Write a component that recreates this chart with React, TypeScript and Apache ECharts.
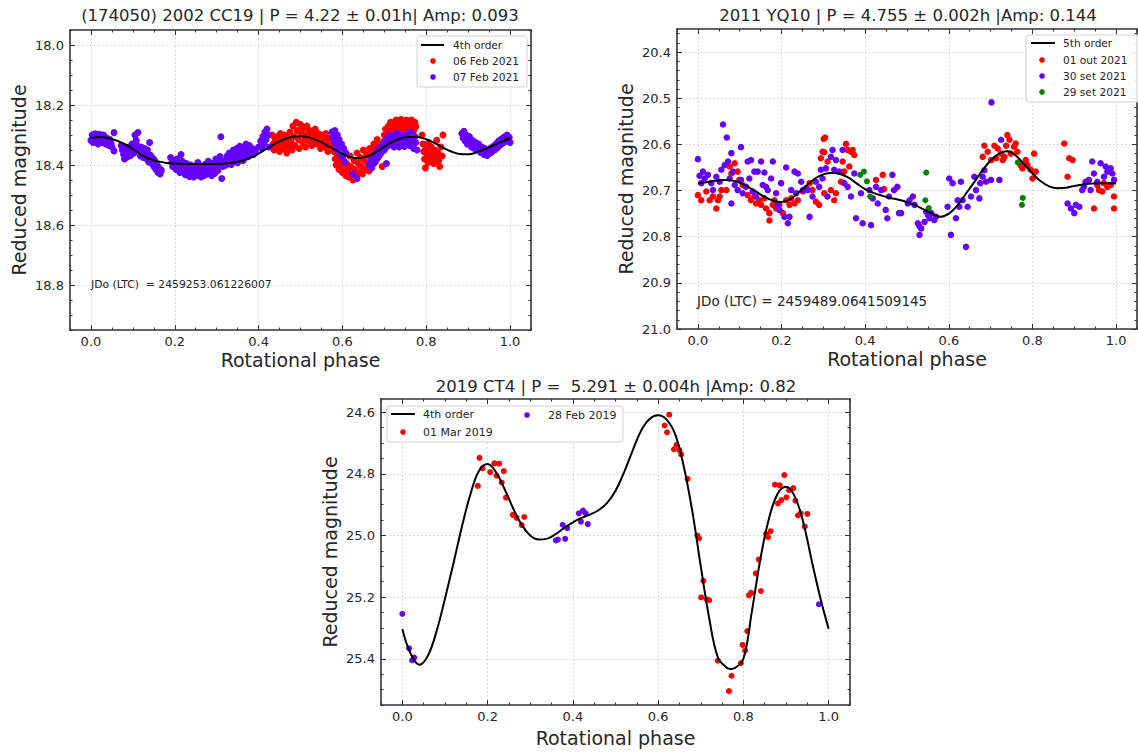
import React, { useEffect, useRef } from "react";
import * as echarts from "echarts";

// ---------- texts ----------
const P1_TITLE = "(174050) 2002 CC19 | P = 4.22 ± 0.01h| Amp: 0.093";
const P2_TITLE = "2011 YQ10 | P = 4.755 ± 0.002h |Amp: 0.144";
const P3_TITLE = "2019 CT4 | P =  5.291 ± 0.004h |Amp: 0.82";
const P1_NOTE = "JDo (LTC)  = 2459253.061226007";
const P2_NOTE = "JDo (LTC) = 2459489.0641509145";
const Y_NAME = "Reduced magnitude";
const X_NAME = "Rotational phase";
const P1_NAMES = ["4th order", "06 Feb 2021", "07 Feb 2021"];
const P2_NAMES = ["5th order", "01 out 2021", "30 set 2021", "29 set 2021"];
const P3_NAMES = ["4th order", "01 Mar 2019", "28 Feb 2019"];

// ---------- ticks ----------
const X_TICKS = [0.0, 0.2, 0.4, 0.6, 0.8, 1.0];
const P1_Y_TICKS = [18.0, 18.2, 18.4, 18.6, 18.8];
const P2_Y_TICKS = [20.4, 20.5, 20.6, 20.7, 20.8, 20.9, 21.0];
const P3_Y_TICKS = [24.6, 24.8, 25.0, 25.2, 25.4];

// ---------- panel 1 data ----------
const P1_FEB06 = [
  [0.432,18.300],[0.435,18.330],[0.437,18.350],[0.440,18.315],[0.442,18.340],[0.445,18.305],[0.447,18.325],[0.450,18.355],[0.452,18.295],[0.455,18.335],[0.457,18.318],[0.460,18.345],[0.462,18.300],[0.465,18.328],[0.467,18.360],[0.470,18.310],[0.472,18.338],[0.475,18.290],[0.477,18.322],[0.480,18.350],[0.482,18.270],[0.485,18.305],[0.487,18.335],[0.490,18.258],[0.492,18.285],[0.495,18.315],[0.497,18.345],[0.500,18.265],[0.502,18.295],[0.505,18.325],[0.507,18.278],[0.510,18.305],[0.512,18.340],[0.515,18.270],[0.517,18.298],[0.520,18.320],[0.522,18.285],[0.525,18.310],[0.527,18.335],[0.530,18.290],[0.532,18.318],[0.535,18.280],[0.537,18.305],[0.540,18.330],[0.542,18.295],[0.545,18.318],[0.548,18.345],[0.550,18.300],[0.553,18.325],[0.555,18.310],[0.558,18.340],[0.560,18.295],[0.563,18.320],[0.565,18.355],[0.568,18.310],[0.570,18.335],
  [0.580,18.355],[0.583,18.380],[0.585,18.400],[0.588,18.365],[0.590,18.390],[0.592,18.415],[0.595,18.375],[0.598,18.400],[0.600,18.425],[0.603,18.385],[0.605,18.410],[0.608,18.435],[0.610,18.395],[0.613,18.420],[0.615,18.440],[0.618,18.370],[0.620,18.405],[0.623,18.430],[0.625,18.450],[0.628,18.385],[0.630,18.415],[0.633,18.440],[0.635,18.360],[0.638,18.395],[0.640,18.425],[0.643,18.375],[0.645,18.405],[0.648,18.430],[0.650,18.350],[0.653,18.385],[0.655,18.415],[0.658,18.365],[0.660,18.395],[0.663,18.420],[0.665,18.345],[0.668,18.375],[0.670,18.405],[0.673,18.355],[0.675,18.330],[0.678,18.390],[0.680,18.345],[0.683,18.315],[0.685,18.375],[0.688,18.330],[0.690,18.360],[0.695,18.405],[0.700,18.320],
  [0.700,18.300],[0.703,18.280],[0.705,18.310],[0.708,18.290],[0.710,18.270],[0.713,18.300],[0.715,18.258],[0.718,18.285],[0.720,18.305],[0.723,18.265],[0.725,18.290],[0.728,18.250],[0.730,18.275],[0.733,18.298],[0.735,18.258],[0.738,18.282],[0.740,18.248],[0.743,18.270],[0.745,18.292],[0.748,18.255],[0.750,18.278],[0.753,18.250],[0.755,18.268],[0.758,18.288],[0.760,18.255],[0.763,18.275],[0.765,18.250],[0.768,18.265],[0.770,18.285],[0.773,18.258],[0.775,18.272],
  [0.790,18.300],[0.792,18.330],[0.794,18.355],[0.796,18.380],[0.798,18.410],[0.800,18.345],[0.802,18.370],[0.804,18.392],[0.806,18.325],[0.808,18.360],[0.810,18.385],[0.812,18.340],[0.815,18.370],[0.818,18.395],[0.820,18.350],[0.823,18.375],[0.825,18.318],[0.828,18.360],[0.830,18.385],[0.832,18.405],[0.835,18.340],[0.838,18.370],[0.840,18.300]
];
const P1_FEB07 = [
  [0.000,18.318],[0.003,18.300],[0.005,18.325],[0.008,18.310],[0.010,18.296],[0.012,18.320],[0.015,18.305],[0.017,18.330],[0.020,18.298],[0.022,18.315],[0.025,18.308],[0.027,18.325],[0.030,18.300],[0.032,18.318],[0.035,18.330],[0.037,18.310],[0.040,18.322],[0.043,18.335],[0.045,18.315],[0.048,18.328],[0.050,18.340],[0.055,18.292],[0.055,18.353],
  [0.072,18.335],[0.075,18.350],[0.078,18.365],[0.080,18.380],[0.083,18.345],[0.085,18.360],[0.088,18.372],[0.090,18.340],[0.093,18.355],[0.095,18.368],[0.098,18.330],[0.100,18.345],[0.103,18.360],[0.105,18.300],[0.108,18.318],[0.110,18.335],[0.112,18.292],[0.115,18.350],[0.118,18.370],[0.120,18.340],[0.122,18.358],[0.125,18.375],[0.128,18.345],[0.130,18.362],[0.133,18.380],[0.135,18.350],[0.138,18.390],[0.140,18.325],[0.142,18.368],[0.145,18.395],[0.148,18.378],[0.150,18.405],[0.152,18.385],[0.155,18.415],[0.158,18.400],[0.160,18.425],[0.163,18.410],[0.165,18.430],[0.168,18.418],
  [0.190,18.375],[0.193,18.392],[0.195,18.405],[0.198,18.385],[0.200,18.398],[0.203,18.415],[0.205,18.380],[0.208,18.395],[0.210,18.410],[0.212,18.425],[0.215,18.365],[0.218,18.388],[0.220,18.402],[0.222,18.418],[0.225,18.432],[0.228,18.395],[0.230,18.410],[0.232,18.425],[0.235,18.438],[0.238,18.400],[0.240,18.415],[0.242,18.430],[0.245,18.440],[0.248,18.405],[0.250,18.420],[0.253,18.435],[0.255,18.392],[0.258,18.412],[0.260,18.428],[0.263,18.440],[0.265,18.405],[0.268,18.420],[0.270,18.435],[0.273,18.398],[0.275,18.415],[0.278,18.430],[0.280,18.388],[0.283,18.405],[0.285,18.422],[0.288,18.435],[0.290,18.395],[0.293,18.410],[0.295,18.428],[0.298,18.380],[0.300,18.400],[0.303,18.418],[0.305,18.390],[0.308,18.372],[0.310,18.306],[0.312,18.445],[0.315,18.405],
  [0.320,18.385],[0.323,18.400],[0.325,18.370],[0.328,18.390],[0.330,18.360],[0.333,18.380],[0.335,18.398],[0.338,18.365],[0.340,18.350],[0.343,18.385],[0.345,18.370],[0.348,18.345],[0.350,18.392],[0.353,18.360],[0.355,18.338],[0.358,18.375],[0.360,18.355],[0.363,18.385],[0.365,18.340],[0.368,18.365],[0.370,18.330],[0.373,18.350],[0.375,18.372],[0.378,18.335],[0.380,18.355],[0.385,18.345],[0.388,18.365],[0.392,18.355],[0.400,18.340],[0.405,18.320],[0.408,18.345],[0.410,18.305],[0.413,18.330],[0.415,18.290],[0.418,18.315],[0.420,18.280],[0.422,18.300],[0.425,18.340],
  [0.575,18.290],[0.578,18.305],[0.580,18.320],[0.582,18.285],[0.585,18.335],[0.588,18.300],[0.590,18.350],[0.592,18.315],[0.595,18.365],[0.598,18.330],[0.600,18.375],[0.603,18.345],[0.605,18.390],[0.608,18.360],
  [0.635,18.445],[0.625,18.430],
  [0.665,18.400],[0.668,18.385],[0.670,18.410],[0.673,18.375],[0.675,18.395],[0.678,18.365],[0.680,18.385],[0.683,18.355],[0.685,18.375],[0.688,18.345],[0.690,18.365],[0.693,18.340],[0.695,18.355],[0.698,18.330],[0.700,18.350],[0.703,18.320],[0.705,18.340],[0.708,18.310],[0.710,18.335],[0.713,18.300],[0.715,18.325],[0.720,18.315],[0.723,18.340],[0.725,18.305],[0.728,18.330],[0.730,18.295],[0.733,18.320],[0.735,18.340],[0.738,18.310],[0.740,18.330],[0.743,18.300],[0.745,18.320],[0.748,18.338],[0.750,18.312],[0.753,18.328],[0.755,18.300],[0.758,18.322],[0.760,18.335],[0.763,18.290],[0.765,18.315],[0.768,18.330],[0.770,18.345],[0.773,18.305],[0.775,18.325],[0.778,18.350],[0.705,18.395],
  [0.885,18.295],[0.888,18.310],[0.890,18.288],[0.893,18.320],[0.895,18.300],[0.898,18.330],[0.900,18.315],[0.903,18.305],[0.905,18.325],[0.908,18.340],[0.910,18.318],[0.913,18.332],[0.915,18.345],[0.918,18.325],[0.920,18.338],[0.923,18.350],[0.925,18.330],[0.928,18.345],[0.930,18.358],[0.933,18.340],[0.935,18.352],[0.938,18.365],[0.940,18.345],[0.943,18.358],[0.945,18.368],[0.948,18.350],[0.950,18.362],[0.953,18.345],[0.955,18.358],[0.958,18.340],[0.960,18.352],[0.963,18.335],[0.965,18.348],[0.968,18.328],[0.970,18.342],[0.973,18.320],[0.975,18.335],[0.978,18.315],[0.980,18.330],[0.983,18.310],[0.985,18.325],[0.988,18.305],[0.990,18.320],[0.993,18.300],[0.995,18.315],[0.998,18.308],[1.000,18.325]
];
const P1_FIT = [
  [0.00,18.311],[0.02,18.307],[0.04,18.310],[0.06,18.318],[0.08,18.330],[0.10,18.347],[0.12,18.366],[0.14,18.380],[0.16,18.388],[0.18,18.393],[0.20,18.395],[0.22,18.396],[0.24,18.397],[0.26,18.397],[0.28,18.397],[0.30,18.396],[0.32,18.395],[0.34,18.392],[0.36,18.386],[0.38,18.376],[0.40,18.362],[0.42,18.345],[0.44,18.328],[0.46,18.315],[0.48,18.306],[0.50,18.304],[0.52,18.308],[0.54,18.318],[0.56,18.332],[0.58,18.348],[0.60,18.363],[0.62,18.374],[0.64,18.377],[0.66,18.371],[0.68,18.357],[0.70,18.339],[0.72,18.322],[0.74,18.311],[0.76,18.306],[0.78,18.307],[0.80,18.314],[0.82,18.327],[0.84,18.342],[0.86,18.355],[0.88,18.363],[0.90,18.364],[0.92,18.358],[0.94,18.347],[0.96,18.335],[0.98,18.322],[1.00,18.311]
];

// ---------- panel 2 data ----------
const P2_OUT01 = [
  [0.000,20.710],[0.008,20.721],[0.020,20.702],[0.028,20.721],[0.036,20.713],[0.044,20.739],[0.048,20.721],[0.052,20.713],[0.056,20.699],[0.068,20.699],[0.076,20.648],[0.080,20.663],[0.088,20.641],[0.095,20.659],[0.099,20.677],[0.107,20.688],[0.119,20.710],[0.127,20.721],[0.135,20.713],[0.139,20.728],[0.147,20.721],[0.151,20.731],[0.159,20.717],[0.163,20.739],[0.171,20.749],[0.171,20.765],[0.179,20.731],[0.183,20.721],[0.187,20.739],[0.195,20.731],[0.203,20.749],[0.211,20.721],[0.219,20.731],[0.223,20.717],[0.231,20.728],[0.239,20.721],[0.251,20.702],[0.259,20.695],[0.267,20.684],[0.274,20.699],[0.282,20.724],[0.290,20.731],[0.294,20.630],[0.298,20.616],[0.301,20.588],[0.304,20.585],[0.302,20.617],[0.310,20.637],[0.302,20.706],[0.318,20.699],[0.326,20.721],[0.330,20.706],[0.342,20.681],[0.346,20.637],[0.350,20.659],[0.354,20.599],[0.358,20.612],[0.362,20.648],[0.366,20.616],[0.370,20.612],[0.374,20.623],[0.426,20.677],[0.442,20.666],[0.445,20.697],
  [0.681,20.627],[0.685,20.603],[0.693,20.616],[0.701,20.634],[0.709,20.603],[0.713,20.630],[0.717,20.609],[0.725,20.620],[0.729,20.634],[0.733,20.627],[0.737,20.603],[0.740,20.580],[0.745,20.590],[0.748,20.620],[0.756,20.605],[0.760,20.598],[0.764,20.616],[0.772,20.645],[0.776,20.652],[0.784,20.634],[0.788,20.645],[0.796,20.655],[0.800,20.674],[0.804,20.620],[0.808,20.659],[0.876,20.598],[0.884,20.670],[0.888,20.630],[0.896,20.634],[0.947,20.739],[0.955,20.688],[0.959,20.699],[0.967,20.702],[0.971,20.684],[0.979,20.692],[0.987,20.688],[0.995,20.713],[0.995,20.739]
];
const P2_SET30 = [
  [0.000,20.632],[0.004,20.668],[0.012,20.659],[0.016,20.674],[0.008,20.684],[0.024,20.666],[0.032,20.684],[0.036,20.699],[0.044,20.670],[0.052,20.681],[0.056,20.655],[0.060,20.557],[0.064,20.645],[0.069,20.585],[0.072,20.637],[0.076,20.674],[0.080,20.619],[0.084,20.659],[0.088,20.688],[0.080,20.728],[0.095,20.699],[0.103,20.606],[0.103,20.677],[0.107,20.706],[0.115,20.692],[0.119,20.637],[0.123,20.674],[0.127,20.634],[0.131,20.702],[0.135,20.659],[0.139,20.713],[0.143,20.659],[0.151,20.637],[0.155,20.688],[0.159,20.661],[0.163,20.692],[0.167,20.699],[0.175,20.674],[0.179,20.637],[0.187,20.706],[0.191,20.731],[0.195,20.742],[0.199,20.684],[0.207,20.757],[0.211,20.650],[0.215,20.771],[0.219,20.757],[0.223,20.699],[0.231,20.659],[0.235,20.706],[0.239,20.663],[0.247,20.681],[0.251,20.699],[0.263,20.699],[0.267,20.757],[0.274,20.713],[0.282,20.681],[0.290,20.692],[0.294,20.655],[0.298,20.674],[0.306,20.652],[0.310,20.713],[0.318,20.627],[0.322,20.612],[0.326,20.655],[0.330,20.634],[0.338,20.659],[0.346,20.612],[0.350,20.684],[0.358,20.692],[0.366,20.713],[0.374,20.663],[0.378,20.760],[0.390,20.706],[0.394,20.771],[0.410,20.699],[0.414,20.775],[0.418,20.717],[0.426,20.692],[0.430,20.728],[0.438,20.699],[0.449,20.742],[0.453,20.760],[0.457,20.713],[0.465,20.666],[0.469,20.699],[0.477,20.692],[0.481,20.749],
  [0.486,20.749],[0.502,20.728],[0.506,20.721],[0.514,20.713],[0.518,20.731],[0.526,20.771],[0.530,20.778],[0.534,20.782],[0.530,20.796],[0.542,20.768],[0.550,20.753],[0.546,20.746],[0.554,20.760],[0.558,20.749],[0.565,20.764],[0.569,20.757],[0.597,20.735],[0.601,20.674],[0.605,20.796],[0.609,20.684],[0.617,20.760],[0.621,20.721],[0.625,20.735],[0.629,20.681],[0.633,20.721],[0.641,20.822],[0.645,20.735],[0.653,20.713],[0.661,20.670],[0.665,20.699],[0.673,20.717],[0.675,20.684],[0.681,20.670],[0.685,20.656],[0.689,20.681],[0.701,20.677],[0.702,20.509],[0.721,20.677],[0.725,20.590],
  [0.884,20.728],[0.892,20.739],[0.900,20.749],[0.904,20.731],[0.912,20.735],[0.919,20.699],[0.923,20.692],[0.927,20.681],[0.935,20.677],[0.939,20.699],[0.943,20.637],[0.947,20.663],[0.955,20.681],[0.963,20.641],[0.971,20.670],[0.975,20.648],[0.979,20.659],[0.987,20.652],[0.991,20.663],[0.995,20.677]
];
const P2_SET29 = [
  [0.388,20.666],[0.397,20.659],[0.404,20.680],[0.412,20.713],[0.546,20.661],[0.544,20.721],[0.552,20.738],[0.765,20.639],[0.777,20.716],[0.775,20.731]
];
const P2_FIT = [
  [0.00,20.684],[0.02,20.682],[0.04,20.679],[0.06,20.677],[0.08,20.678],[0.10,20.683],[0.12,20.692],[0.14,20.703],[0.16,20.714],[0.18,20.722],[0.20,20.725],[0.22,20.719],[0.24,20.705],[0.26,20.689],[0.28,20.674],[0.30,20.665],[0.32,20.662],[0.34,20.664],[0.36,20.672],[0.38,20.685],[0.40,20.697],[0.42,20.705],[0.44,20.711],[0.46,20.716],[0.48,20.720],[0.50,20.725],[0.52,20.732],[0.54,20.741],[0.56,20.750],[0.58,20.757],[0.60,20.750],[0.62,20.733],[0.64,20.708],[0.66,20.683],[0.68,20.657],[0.70,20.635],[0.72,20.620],[0.74,20.615],[0.76,20.624],[0.78,20.643],[0.80,20.663],[0.82,20.680],[0.84,20.691],[0.86,20.695],[0.88,20.694],[0.90,20.690],[0.92,20.687],[0.94,20.685],[0.96,20.684],[0.98,20.684],[1.00,20.685]
];

// ---------- panel 3 data ----------
const P3_MAR01 = [
  [0.177,24.839],[0.181,24.748],[0.188,24.782],[0.206,24.794],[0.216,24.766],[0.227,24.767],[0.221,24.806],[0.238,24.791],[0.233,24.828],[0.243,24.877],[0.259,24.933],[0.268,24.943],[0.286,24.940],[0.280,24.966],
  [0.626,24.608],[0.615,24.643],[0.621,24.665],[0.637,24.720],[0.643,24.706],[0.650,24.723],[0.654,24.737],[0.669,24.816],[0.692,25.000],[0.696,25.009],[0.706,25.147],[0.701,25.201],[0.714,25.207],[0.720,25.210],[0.740,25.406],[0.772,25.455],[0.766,25.505],[0.794,25.414],[0.798,25.355],[0.804,25.373],[0.809,25.310],[0.813,25.194],[0.818,25.186],[0.829,25.123],[0.836,25.078],[0.841,25.180],[0.853,24.995],[0.858,25.005],[0.864,24.986],[0.874,24.835],[0.885,24.837],[0.896,24.804],[0.881,24.896],[0.889,24.885],[0.901,24.876],[0.907,24.853],[0.917,24.846],[0.922,24.887],[0.928,24.935],[0.934,24.928],[0.950,24.930],[0.944,24.971]
];
const P3_FEB28 = [
  [0.000,25.254],[0.016,25.366],[0.023,25.405],[0.028,25.396],[0.360,25.016],[0.365,25.013],[0.382,25.011],[0.376,24.965],[0.387,24.976],[0.414,24.928],[0.424,24.919],[0.430,24.928],[0.419,24.955],[0.435,24.963],[0.977,25.223]
];
const P3_FIT = [
  [0.00,25.303],[0.02,25.385],[0.04,25.419],[0.06,25.390],[0.08,25.312],[0.10,25.205],[0.12,25.090],[0.14,24.970],[0.16,24.865],[0.18,24.790],[0.20,24.768],[0.22,24.795],[0.24,24.850],[0.26,24.912],[0.28,24.965],[0.30,25.000],[0.32,25.013],[0.34,25.010],[0.36,24.995],[0.38,24.975],[0.40,24.957],[0.42,24.943],[0.44,24.932],[0.46,24.918],[0.48,24.895],[0.50,24.855],[0.52,24.795],[0.54,24.725],[0.56,24.660],[0.58,24.622],[0.60,24.610],[0.62,24.624],[0.64,24.672],[0.66,24.775],[0.68,24.920],[0.70,25.100],[0.72,25.270],[0.74,25.395],[0.76,25.428],[0.77,25.433],[0.78,25.430],[0.80,25.400],[0.82,25.245],[0.84,25.075],[0.86,24.945],[0.88,24.865],[0.90,24.842],[0.92,24.872],[0.94,24.955],[0.96,25.080],[0.98,25.200],[1.00,25.303]
];

// ---------- styling ----------
const FONT = "DejaVu Sans";
const RED = "#ff0000";
const PURPLE = "#6600ff";
const GREEN = "#008000";
const FRAME = "#333333";
const TXT = "#262626";

function minorTicks(min: number, max: number, step: number, majors: number[]) {
  const out: number[] = [];
  const s = Math.ceil(min / step - 1e-9);
  const e = Math.floor(max / step + 1e-9);
  for (let k = s; k <= e; k++) {
    const v = +(k * step).toFixed(4);
    if (!majors.some((m) => Math.abs(m - v) < 1e-6)) out.push(v);
  }
  return out;
}

function buildAxes(dim: string, gridIndex: number, min: number, max: number, majors: number[], minorStep: number, nameGap: number, labelMargin: number) {
  const minors = minorTicks(min, max, minorStep, majors);
  const sides = dim === "x" ? ["bottom", "top"] : ["left", "right"];
  const axes: any[] = [];
  sides.forEach((pos, si) => {
    [true, false].forEach((isMajor) => {
      const main = si === 0 && isMajor;
      axes.push({
        type: "value",
        gridIndex,
        min,
        max,
        position: pos,
        inverse: dim === "y",
        silent: true,
        name: main ? (dim === "x" ? X_NAME : Y_NAME) : "",
        nameLocation: "middle",
        nameGap,
        nameTextStyle: { fontFamily: FONT, fontSize: 19, color: TXT },
        axisLine: { show: isMajor, onZero: false, lineStyle: { color: FRAME, width: 1.6 } },
        axisTick: {
          show: true,
          inside: true,
          length: isMajor ? 5 : 2.5,
          customValues: isMajor ? majors : minors,
          lineStyle: { color: FRAME, width: 1 },
        },
        axisLabel: {
          show: main,
          customValues: majors,
          formatter: (v: number) => Number(v).toFixed(1),
          margin: labelMargin,
          fontFamily: FONT,
          fontSize: 13,
          color: TXT,
        },
        splitLine: { show: main, lineStyle: { type: [1.5, 2.5], color: "#cfcfcf", width: 1 } },
        minorTick: { show: false },
        minorSplitLine: { show: false },
      });
    });
  });
  return axes;
}

function scatter(name: string, data: number[][], color: string, g: number, size: number) {
  return {
    type: "scatter",
    name,
    data,
    xAxisIndex: g * 4,
    yAxisIndex: g * 4,
    symbolSize: size,
    itemStyle: { color, opacity: 1 },
    silent: true,
    z: 2,
  };
}
function fitLine(name: string, data: number[][], g: number) {
  return {
    type: "line",
    name,
    data,
    xAxisIndex: g * 4,
    yAxisIndex: g * 4,
    showSymbol: false,
    symbol: "none",
    smooth: 0.4,
    lineStyle: { color: "#000000", width: 2 },
    silent: true,
    z: 4,
  };
}

function txt(text: string, x: number, y: number, size: number, align = "left") {
  return {
    type: "text",
    x,
    y,
    silent: true,
    z: 20,
    style: { text, fontFamily: FONT, fontSize: size, fill: TXT, align, verticalAlign: "middle" },
  };
}
function legendBox(x: number, y: number, w: number, h: number) {
  return {
    type: "rect",
    silent: true,
    z: 15,
    shape: { x, y, width: w, height: h, r: 3 },
    style: { fill: "rgba(255,255,255,0.85)", stroke: "#d0d0d0", lineWidth: 1 },
  };
}
function legendLine(x1: number, x2: number, y: number) {
  return { type: "line", silent: true, z: 16, shape: { x1, y1: y, x2, y2: y }, style: { stroke: "#000", lineWidth: 2 } };
}
function legendDot(cx: number, cy: number, fill: string) {
  return { type: "circle", silent: true, z: 16, shape: { cx, cy, r: 2.8 }, style: { fill } };
}

export default function App() {
  const ref = useRef<HTMLDivElement>(null);
  useEffect(() => {
    if (!ref.current) return;
    const chart = echarts.init(ref.current, null, { renderer: "svg" });
    const xAxis = [
      ...buildAxes("x", 0, -0.05, 1.05, X_TICKS, 0.05, 20, 5),
      ...buildAxes("x", 1, -0.05, 1.05, X_TICKS, 0.05, 20, 5),
      ...buildAxes("x", 2, -0.05, 1.05, X_TICKS, 0.05, 23, 5),
    ];
    const yAxis = [
      ...buildAxes("y", 0, 17.95, 18.95, P1_Y_TICKS, 0.05, 42, 6),
      ...buildAxes("y", 1, 20.35, 21.0, P2_Y_TICKS, 0.02, 42, 6),
      ...buildAxes("y", 2, 24.557, 25.55, P3_Y_TICKS, 0.05, 42, 6),
    ];
    const option: any = {
      animation: false,
      backgroundColor: "#ffffff",
      grid: [
        { left: 70, top: 30, width: 461, height: 300, containLabel: false, outerBoundsMode: "none" },
        { left: 677, top: 29, width: 460, height: 300, containLabel: false, outerBoundsMode: "none" },
        { left: 381, top: 399, width: 469, height: 306, containLabel: false, outerBoundsMode: "none" },
      ],
      xAxis,
      yAxis,
      series: [
        scatter(P1_NAMES[1], P1_FEB06, RED, 0, 7),
        scatter(P1_NAMES[2], P1_FEB07, PURPLE, 0, 7),
        fitLine(P1_NAMES[0], P1_FIT, 0),
        scatter(P2_NAMES[1], P2_OUT01, RED, 1, 6.5),
        scatter(P2_NAMES[2], P2_SET30, PURPLE, 1, 6.5),
        scatter(P2_NAMES[3], P2_SET29, GREEN, 1, 6),
        fitLine(P2_NAMES[0], P2_FIT, 1),
        scatter(P3_NAMES[1], P3_MAR01, RED, 2, 6),
        scatter(P3_NAMES[2], P3_FEB28, PURPLE, 2, 6),
        fitLine(P3_NAMES[0], P3_FIT, 2),
      ],
      graphic: [
        txt(P1_TITLE, 300, 15, 16.5, "center"),
        txt(P2_TITLE, 908, 15, 16.5, "center"),
        txt(P3_TITLE, 616, 386, 16.5, "center"),
        txt(P1_NOTE, 91, 284, 10.8),
        txt(P2_NOTE, 697, 301, 13.5),
        // legend panel 1
        legendBox(417, 36, 110, 51),
        legendLine(421, 444, 45),
        txt(P1_NAMES[0], 453, 45, 10.6),
        legendDot(433, 61, RED),
        txt(P1_NAMES[1], 453, 61, 10.6),
        legendDot(433, 77, PURPLE),
        txt(P1_NAMES[2], 453, 77, 10.6),
        // legend panel 2
        legendBox(1026, 35, 116, 67),
        legendLine(1031, 1055, 43),
        txt(P2_NAMES[0], 1063, 43, 10.6),
        legendDot(1042, 60, RED),
        txt(P2_NAMES[1], 1063, 60, 10.6),
        legendDot(1042, 76, PURPLE),
        txt(P2_NAMES[2], 1063, 76, 10.6),
        legendDot(1042, 92, GREEN),
        txt(P2_NAMES[3], 1063, 92, 10.6),
        // legend panel 3
        legendBox(387, 406, 236, 36),
        legendLine(391, 415, 414),
        txt(P3_NAMES[0], 423, 414, 11),
        legendDot(403, 432, RED),
        txt(P3_NAMES[1], 423, 432, 11),
        legendDot(527, 415, PURPLE),
        txt(P3_NAMES[2], 548, 415, 11),
      ],
    };
    chart.setOption(option);
    return () => chart.dispose();
  }, []);
  return (
    <div
      ref={ref}
      style={{ position: "absolute", left: 0, top: 0, width: 1138, height: 754, background: "#fff" }}
    />
  );
}
